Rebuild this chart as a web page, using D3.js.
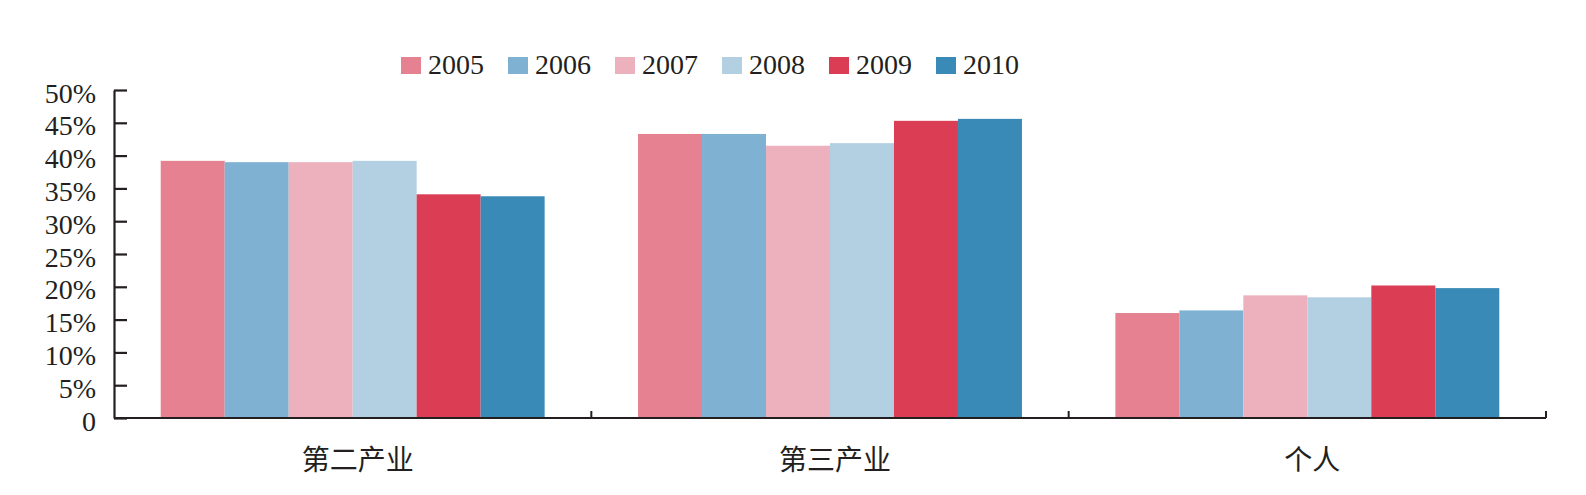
<!DOCTYPE html>
<html>
<head>
<meta charset="utf-8">
<script src="https://cdn.jsdelivr.net/npm/d3@7"></script>
<style>
  html, body { margin: 0; padding: 0; background: #fff; }
  svg { display: block; }
</style>
</head>
<body>
<svg id="chart" width="1586" height="495"></svg>
<script>
const categories = ["第二产业", "第三产业", "个人"];
const years = ["2005", "2006", "2007", "2008", "2009", "2010"];
const v2005 = [39.2, 43.3, 16.0];
const v2006 = [39.0, 43.3, 16.4];
const v2007 = [39.0, 41.5, 18.7];
const v2008 = [39.2, 41.9, 18.4];
const v2009 = [34.1, 45.3, 20.2];
const v2010 = [33.8, 45.6, 19.8];
const seriesValues = [v2005, v2006, v2007, v2008, v2009, v2010];
const colors = ["#e58190", "#7fb1d3", "#ecb1bc", "#b3cfe2", "#db3d54", "#3a8ab7"];
const yTicks = [0, 5, 10, 15, 20, 25, 30, 35, 40, 45, 50];

const svg = d3.select("#chart");
const ink = "#231f20";
const serif = "'Liberation Serif', 'Times New Roman', serif";

const x0 = d3.scaleBand().domain(categories).range([114, 1546]).padding(0);
const x1 = d3.scaleBand().domain(years).range([0, x0.bandwidth()]).paddingInner(0).paddingOuter(0.73);
const y = d3.scaleLinear().domain([0, 50]).range([418, 90]);
const color = d3.scaleOrdinal().domain(years).range(colors);

// bars
const groups = svg.append("g").selectAll("g")
  .data(categories)
  .join("g")
  .attr("transform", d => `translate(${x0(d)},0)`);

groups.selectAll("rect")
  .data((c, ci) => years.map((yr, yi) => ({ yr, v: seriesValues[yi][ci] })))
  .join("rect")
  .attr("x", d => x1(d.yr))
  .attr("width", x1.bandwidth())
  .attr("y", d => y(d.v))
  .attr("height", d => y(0) - y(d.v))
  .attr("fill", d => color(d.yr));

// y axis
const yAxis = d3.axisLeft(y)
  .tickValues(yTicks)
  .tickSizeInner(-13)
  .tickSizeOuter(0)
  .tickPadding(18)
  .tickFormat(d => d === 0 ? "0" : d + "%");

const gy = svg.append("g").attr("transform", "translate(114,0)").call(yAxis);
gy.selectAll("path, line").attr("stroke", ink).attr("stroke-width", 2.2);
gy.selectAll("text")
  .attr("font-family", serif)
  .attr("font-size", 28)
  .attr("fill", ink)
  .attr("dy", null)
  .attr("y", 12);

// x axis
const gx = svg.append("g");
gx.append("line")
  .attr("x1", x0.range()[0]).attr("x2", x0.range()[1])
  .attr("y1", y(0)).attr("y2", y(0))
  .attr("stroke", ink).attr("stroke-width", 2.2);
gx.selectAll("line.tick")
  .data(categories)
  .join("line")
  .attr("class", "tick")
  .attr("x1", d => x0(d) + x0.bandwidth())
  .attr("x2", d => x0(d) + x0.bandwidth())
  .attr("y1", y(0))
  .attr("y2", y(0) - 7)
  .attr("stroke", ink).attr("stroke-width", 2);

gx.selectAll("text")
  .data(categories)
  .join("text")
  .attr("x", d => x0(d) + x0.bandwidth() / 2 + 5)
  .attr("y", 458)
  .attr("dominant-baseline", "central")
  .attr("text-anchor", "middle")
  .attr("font-family", "'Noto Sans CJK SC', sans-serif")
  .attr("font-size", 28)
  .attr("fill", ink)
  .text(d => d);

// legend
const legend = svg.append("g").selectAll("g")
  .data(years)
  .join("g")
  .attr("transform", (d, i) => `translate(${401 + i * 107},57)`);
legend.append("rect")
  .attr("width", 20).attr("height", 17)
  .attr("fill", d => color(d));
legend.append("text")
  .attr("x", 27).attr("y", 16.5)
  .attr("font-family", serif)
  .attr("font-size", 28)
  .attr("fill", ink)
  .text(d => d);
</script>
</body>
</html>
